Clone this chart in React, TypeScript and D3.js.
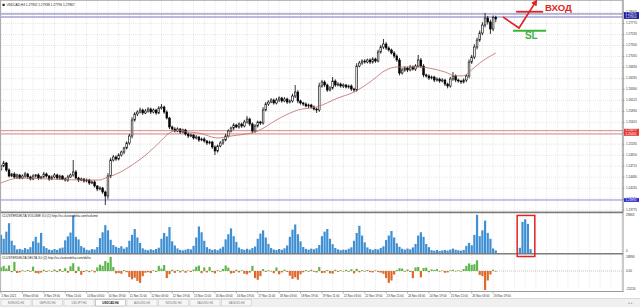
import React from "react";
import * as d3 from "d3";

const W = 640;
const H = 307;

// Candle values are stored in points (0.00001) above 1.20000
const BASE_PRICE = 1.2;
const POINT = 0.00001;
const FIRST_OPEN = 4650;

const closes = [
  4718, 4783, 4633, 4504, 4547, 4483, 4526, 4461, 4504, 4547,
  4483, 4440, 4504, 4526, 4461, 4483, 4547, 4504, 4440, 4483,
  4526, 4461, 4504, 4440, 4418, 4483, 4526, 4590, 4461, 4418,
  4440, 4397, 4418, 4354, 4376, 4290, 4226, 4247, 4161, 4076,
  4504, 4847, 4911, 4868, 4954, 5018, 5104, 5211, 5361, 5704,
  5832, 5875, 5918, 5854, 5896, 5939, 5875, 5918, 5854, 5961,
  5982, 5875, 5746, 5554, 5511, 5468, 5511, 5447, 5489, 5404,
  5361, 5382, 5318, 5339, 5275, 5297, 5254, 5211, 5232, 5125,
  5040, 5147, 5211, 5275, 5361, 5468, 5532, 5596, 5554, 5618,
  5575, 5661, 5725, 5618, 5468, 5575, 5661, 5639, 5918, 6046,
  6089, 6132, 6068, 6132, 6175, 6111, 6153, 6089, 6111, 6218,
  6303, 6111, 6068, 6046, 6004, 6025, 5982, 5939, 5918, 6432,
  6518, 6453, 6346, 6389, 6539, 6453, 6475, 6432, 6453, 6410,
  6432, 6368, 6346, 6860, 6925, 6967, 6946, 6989, 6946, 7010,
  6967, 7160, 7267, 7332, 7246, 7203, 7139, 7074, 6989, 6710,
  6775, 6817, 6775, 6839, 6796, 6860, 6989, 6860, 6668, 6646,
  6603, 6625, 6560, 6582, 6539, 6560, 6475, 6432, 6582, 6646,
  6560, 6539, 6518, 6560, 6646, 6946, 7053, 7267, 7417, 7567,
  7738, 7888, 7803, 7653, 7902, 7867,
];

const upperWicks = [
  30, 45, 20, 35, 25, 40, 30, 20, 35, 45,
  25, 30, 40, 20, 35, 25, 45, 30, 20, 35,
  40, 25, 30, 20, 35, 45, 30, 257, 40, 25,
  30, 20, 35, 25, 30, 40, 20, 35, 25, 30,
  60, 50, 45, 35, 40, 30, 25, 35, 45, 60,
  40, 35, 50, 30, 45, 40, 30, 35, 25, 40,
  64, 30, 35, 25, 30, 40, 35, 20, 30, 25,
  35, 30, 20, 40, 25, 30, 35, 20, 30, 25,
  35, 30, 40, 25, 45, 35, 30, 40, 25, 35,
  30, 45, 64, 30, 35, 40, 30, 25, 60, 45,
  35, 40, 30, 45, 35, 25, 40, 30, 35, 50,
  150, 40, 30, 25, 35, 30, 25, 35, 30, 70,
  45, 35, 30, 40, 86, 35, 40, 30, 35, 25,
  30, 35, 25, 60, 45, 35, 40, 30, 35, 40,
  30, 50, 45, 107, 40, 35, 30, 40, 35, 45,
  40, 35, 30, 45, 35, 40, 107, 45, 40, 30,
  35, 30, 25, 35, 30, 40, 25, 30, 45, 86,
  35, 30, 25, 35, 40, 55, 45, 60, 50, 55,
  60, 108, 45, 50, 40, 36,
];

const lowerWicks = [
  35, 25, 40, 30, 20, 35, 45, 30, 25, 35,
  40, 30, 25, 35, 45, 30, 20, 35, 40, 25,
  30, 35, 45, 25, 30, 40, 20, 35, 30, 45,
  25, 35, 30, 40, 25, 35, 45, 30, 40, 193,
  70, 45, 35, 40, 30, 35, 45, 30, 40, 50,
  35, 45, 30, 40, 25, 35, 45, 30, 40, 25,
  35, 40, 30, 45, 35, 30, 25, 40, 30, 35,
  45, 25, 35, 30, 40, 25, 35, 45, 30, 40,
  86, 35, 30, 40, 25, 35, 30, 45, 25, 35,
  40, 30, 35, 45, 50, 35, 30, 40, 35, 30,
  40, 25, 35, 30, 45, 35, 25, 40, 30, 35,
  45, 50, 35, 40, 30, 45, 35, 30, 64, 40,
  35, 45, 40, 30, 35, 40, 30, 35, 45, 30,
  35, 40, 45, 35, 30, 40, 35, 30, 45, 35,
  40, 30, 35, 45, 40, 35, 30, 45, 40, 50,
  35, 40, 45, 30, 35, 40, 30, 45, 50, 35,
  40, 30, 45, 35, 40, 30, 45, 50, 35, 40,
  45, 35, 40, 30, 45, 50, 40, 45, 50, 40,
  45, 50, 55, 107, 45, 71,
];

const volumes = [
  14000, 11000, 16500, 23000, 9500, 6000, 2800, 3200, 2500, 3800,
  2900, 4500, 9000, 12500, 8000, 15500, 5200, 3800, 2600, 2200,
  3100, 2400, 3600, 4200, 9800, 12800, 15800, 29000, 12500, 10500,
  5300, 4100, 2500, 2100, 3000, 2700, 4600, 11500, 16000, 21500,
  17500, 10200, 6200, 4800, 3900, 5200, 3300, 4500, 9500, 14000,
  18500, 12000, 7800, 3600, 2500, 2100, 2900, 2300, 3100, 4100,
  11000, 15500, 12800, 20000, 9000, 5800, 3500, 2400, 2000, 2600,
  3200, 2800, 5500, 12000, 20500, 16000, 9500, 4500, 3200, 2400,
  2900, 2200, 3400, 4800, 10500, 14500, 19000, 13000, 8500, 4200,
  3000, 2500, 3300, 2600, 3800, 5000, 11000, 15000, 17500, 12000,
  7000, 3800, 2700, 2300, 3100, 2500, 3600, 5800, 12500, 18000,
  22000, 14500, 9000, 4600, 3200, 2600, 3400, 2900, 3700, 6200,
  13000, 16500, 18500, 11000, 6800, 3900, 2800, 2200, 2600, 2400,
  3300, 4400, 9500, 15500, 21000, 13500, 8200, 4300, 3000, 2400,
  3200, 2700, 3900, 5200, 10000, 13500, 17000, 12000, 7500, 4800,
  3300, 2600, 3500, 2800, 4300, 7000, 13500, 16000, 12500, 7000,
  4500, 2200, 1800, 2400, 1600, 2000, 2300, 1900, 2600, 3400,
  2500, 2100, 1800, 2400, 5500, 7800, 6000, 14000, 29500, 13000,
  17500, 25000, 15500, 11000, 3500, 2000,
];

const deltas = [
  4500, 6500, 3000, 7000, -1500, 11500, -2500, -1800, 800, -600,
  1200, -900, 5500, -2500, -3200, -2000, 1500, -1200, 600, -800,
  1800, -1400, 2500, -1000, 3500, -2200, 6000, 9800, -2600, 5500,
  -4800, -1200, 900, -1500, 700, -1800, 4500, 8000, 6500, 12500,
  10500, 17800, 5000, -3000, -2600, -3400, 1200, -1500, -7500, -10500,
  -8500, -12500, -15000, -6500, -2200, -1500, -2600, 800, -1200, 6500,
  3000, 7500, -9000, -4000, 1500, -2400, 1200, -1800, 900, -2200,
  600, -1200, 1800, 5500, 6800, -2800, 4500, -1800, 5200, -1500,
  -3000, 1000, -800, 2500, 6800, 4200, -3200, -2500, 1500, -1800,
  900, -3600, -4200, -2000, 6500, -9000, -11000, -6500, 2400, -1200,
  800, -600, -2800, 4500, -4200, -1800, 1600, -1200, -6000, -10000,
  -8000, -11000, -4200, -1600, 1100, -900, 1500, -1000, -1800, 5000,
  -2500, -2200, 1200, -3000, -3400, 1600, -1200, 800, -600, 1400,
  -1000, 2200, -3000, 2800, -1600, 900, -700, 1300, -1500, -1800,
  600, -1400, -2000, -3500, -9000, -15000, -12000, -4500, 1200, 3500,
  3000, -900, 1800, -1200, -9000, 4500, 5000, -8000, 3800, 4200,
  -1500, 2000, 1200, 2400, -800, 600, -2200, -1800, 700, 1500,
  -600, 900, -500, 2500, 6500, 9500, 7800, 8500, 13500, -5000,
  -6500, -24000, -12000, -4500, 1500, -800,
];

// hand-drawn volume projection inside the red box
const highlightStart = 194;
const highlightVolumes = [4000, 24000, 26000, 22500, 3000];

// moving average: [bar, points]
const maPoints: [number, number][] = [
  [0, 4354], [7, 4461], [18, 4440], [30, 4418], [37, 4418], [39, 4461],
  [44, 4568], [49, 4740], [55, 4997], [59, 5211], [63, 5425], [66, 5489],
  [70, 5447], [74, 5425], [81, 5318], [86, 5361], [95, 5447], [105, 5768],
  [111, 5918], [118, 5982], [126, 6175], [132, 6303], [138, 6518],
  [144, 6775], [148, 6839], [156, 6839], [160, 6817], [166, 6732],
  [170, 6650], [173, 6650], [175, 6732], [179, 6925], [185, 7139],
];

const timeLabels = [
  "5 Nov 2021", "8 Nov 03:00", "8 Nov 19:00", "9 Nov 11:00", "10 Nov 03:00",
  "10 Nov 19:00", "11 Nov 11:00", "12 Nov 03:00", "12 Nov 19:00", "15 Nov 11:00",
  "16 Nov 03:00", "16 Nov 19:00", "17 Nov 11:00", "18 Nov 03:00", "18 Nov 19:00",
  "19 Nov 11:00", "22 Nov 03:00", "22 Nov 19:00", "23 Nov 11:00", "24 Nov 03:00",
  "24 Nov 19:00", "25 Nov 11:00", "26 Nov 03:00", "26 Nov 19:00",
];
const barsPerLabel = 8;

const priceTicks = [
  1.28005, 1.2777, 1.27535, 1.273, 1.27065, 1.2683, 1.26595, 1.2636, 1.26125,
  1.2589, 1.25655, 1.2542, 1.25185, 1.2495, 1.24715, 1.2448, 1.24245, 1.2401, 1.23775,
];

const blueTopLevels = [1.27975, 1.2791];
const redLevels = [1.25475, 1.25405];
const blueBottomLevels = [1.2399];

const volumeAxisLabels = [29863, 0];
const deltaAxisLabels = ["18898", "0.00", "-25226"];
const deltaAxisValues = [18898, 0, -25226];

const tabs = ["EURUSD,H4", "GBPUSD,H4", "USDJPY,H4", "USDCAD,H4", "AUDUSD,H4", "NZDUSD,H4", "XAUUSD,H4", "XAGUSD,H4"];
const activeTab = "USDCAD,H4";

const chartTitle = "USDCAD,H4  1.27902 1.27938 1.27796 1.27867";
const volumeTitle = "CLUSTERDELTA VOLUME 3.0 (1) http://ru.clusterdelta.com/volume";
const deltaTitle = "CLUSTERDELTA DELTA 3.0 (2) http://ru.clusterdelta.com/delta";

// annotation in data space: [bar, price]
const arrowPath: [number, number][] = [[187.7, 1.2791], [193.7, 1.27674], [200, 1.28242]];
const entryLine: [number, number, number] = [192.6, 202.7, 1.28023];
const slLine: [number, number, number] = [191.4, 203.8, 1.27616];
const entryText = { bar: 203.4, price: 1.28045, text: "ВХОД" };
const slText = { bar: 195.9, price: 1.27432, text: "SL" };
const boxBars = [193, 199.6];

const FONT = "'Liberation Sans', Arial, sans-serif";

export default function App() {
  const plotL = 1;
  const plotR = 623;
  const mainTop = 1;
  const mainBot = 212;
  const volTop = 213;
  const volBot = 253;
  const dTop = 255;
  const dBot = 291;

  const x = d3.scaleLinear().domain([0, 232.2]).range([plotL, 622]);
  const y = d3.scaleLinear().domain([1.23733, 1.28253]).range([mainBot, mainTop]);
  const yVol = d3.scaleLinear().domain([0, 30500]).range([volBot, volTop + 0.5]);
  const yDelta = d3.scaleLinear().domain([-25226, 18898]).range([dBot, dTop + 1]);
  const toPrice = (v: number) => BASE_PRICE + v * POINT;

  const candles = closes.map((c, i) => {
    const o = i === 0 ? FIRST_OPEN : closes[i - 1];
    return {
      i,
      o: toPrice(o),
      c: toPrice(c),
      h: toPrice(Math.max(o, c) + upperWicks[i]),
      l: toPrice(Math.min(o, c) - lowerWicks[i]),
    };
  });

  const maLine = d3
    .line<[number, number]>()
    .x((d) => x(d[0]))
    .y((d) => y(toPrice(d[1])))
    .curve(d3.curveMonotoneX);

  const gridBars = d3.range(0, 233, 4);
  const bw = 1.7;
  const vbw = 2.2;

  const arrowPts = arrowPath.map(([b, p]) => `${x(b)},${y(p)}`).join(" ");

  const levelBox = (levels: number[], fill: string, key: string) => {
    const y0 = y(levels[0]) - 1.9;
    const y1 = y(levels[levels.length - 1]) + 1.9;
    return (
      <g key={key}>
        <rect x={plotR + 1} y={y0} width={15} height={y1 - y0} fill={fill} />
        {levels.map((lv, k) => (
          <text key={k} x={plotR + 2.5} y={y(lv)} fontSize={3} fill="#fff" dominantBaseline="middle">
            {lv.toFixed(5)}
          </text>
        ))}
      </g>
    );
  };

  const paneVGrid = (top: number, bot: number, key: string) => (
    <g key={key} stroke="#d6d6d6" strokeWidth={0.6} strokeDasharray="1,1">
      {gridBars.map((b) => (
        <line key={b} x1={x(b)} x2={x(b)} y1={top} y2={bot} />
      ))}
    </g>
  );

  return (
    <div style={{ position: "absolute", left: 0, top: 0, width: W, height: H }}>
      <svg width={W} height={H} style={{ display: "block" }} fontFamily={FONT}>
        <defs>
          <clipPath id="mainClip">
            <rect x={plotL} y={mainTop} width={plotR - plotL} height={mainBot - mainTop} />
          </clipPath>
          <marker id="arrowHead" viewBox="0 0 10 10" refX="6" refY="5" markerWidth="4" markerHeight="4" orient="auto">
            <path d="M0,0 L10,5 L0,10 z" fill="#e02424" />
          </marker>
        </defs>
        <rect width={W} height={H} fill="#fff" />

        {/* main pane grid */}
        {paneVGrid(mainTop, mainBot, "g1")}
        <g stroke="#d6d6d6" strokeWidth={0.6} strokeDasharray="1,1">
          {priceTicks.map((p) => (
            <line key={p} x1={plotL} x2={plotR} y1={y(p)} y2={y(p)} />
          ))}
        </g>
        {paneVGrid(volTop, volBot, "g2")}
        {paneVGrid(dTop, dBot, "g3")}

        {/* horizontal levels */}
        <g strokeWidth={0.9}>
          {blueTopLevels.map((lv) => (
            <line key={lv} x1={plotL} x2={plotR} y1={y(lv)} y2={y(lv)} stroke="#6666b4" />
          ))}
          {redLevels.map((lv) => (
            <line key={lv} x1={plotL} x2={plotR} y1={y(lv)} y2={y(lv)} stroke="#d47a7a" />
          ))}
          {blueBottomLevels.map((lv) => (
            <line key={lv} x1={plotL} x2={plotR} y1={y(lv)} y2={y(lv)} stroke="#8484d2" />
          ))}
        </g>

        {/* candles */}
        <g clipPath="url(#mainClip)">
          {candles.map((d) => {
            const cx = x(d.i);
            const top = y(Math.max(d.o, d.c));
            const bh = Math.max(0.7, Math.abs(y(d.o) - y(d.c)));
            const bull = d.c >= d.o;
            return (
              <g key={d.i}>
                <line x1={cx} x2={cx} y1={y(d.h)} y2={y(d.l)} stroke="#000" strokeWidth={0.8} />
                <rect
                  x={cx - bw / 2}
                  y={top}
                  width={bw}
                  height={bh}
                  fill={bull ? "#fff" : "#000"}
                  stroke="#000"
                  strokeWidth={0.6}
                />
              </g>
            );
          })}
          <path d={maLine(maPoints) || ""} fill="none" stroke="#b86e6a" strokeWidth={0.8} />
        </g>

        {/* volume */}
        <g fill="#3f8fd2">
          {volumes.map((v, i) => (
            <rect key={i} x={x(i) - vbw / 2} y={yVol(v)} width={vbw} height={volBot - yVol(v)} />
          ))}
          {highlightVolumes.map((v, k) => (
            <rect
              key={"h" + k}
              x={x(highlightStart + k) - vbw / 2}
              y={yVol(v)}
              width={vbw}
              height={volBot - yVol(v)}
            />
          ))}
        </g>

        {/* delta */}
        <line
          x1={plotL}
          x2={plotR}
          y1={yDelta(0)}
          y2={yDelta(0)}
          stroke="#9a9a9a"
          strokeWidth={0.6}
          strokeDasharray="1,1"
        />
        <g>
          {deltas.map((v, i) => (
            <rect
              key={i}
              x={x(i) - vbw / 2}
              y={Math.min(yDelta(v), yDelta(0))}
              width={vbw}
              height={Math.max(0.5, Math.abs(yDelta(v) - yDelta(0)))}
              fill={v >= 0 ? "#5cb84a" : "#de6a2a"}
            />
          ))}
        </g>

        {/* pane frames */}
        <g fill="none">
          <rect x={0.5} y={0.5} width={plotR - 0.5} height={mainBot - 0.5} stroke="#a8a8a8" strokeWidth={0.8} />
          <line x1={0} x2={plotR} y1={mainBot + 0.5} y2={mainBot + 0.5} stroke="#7c7c7c" strokeWidth={1.6} />
          <line x1={0} x2={plotR} y1={volBot + 0.8} y2={volBot + 0.8} stroke="#7c7c7c" strokeWidth={1.6} />
          <line x1={0} x2={plotR} y1={dBot + 0.5} y2={dBot + 0.5} stroke="#9a9a9a" strokeWidth={1} />
          <line x1={0.5} x2={0.5} y1={0} y2={dBot} stroke="#a8a8a8" strokeWidth={0.8} />
          <line x1={plotR} x2={plotR} y1={0} y2={dBot + 1} stroke="#8a8a8a" strokeWidth={0.9} />
        </g>

        {/* price axis */}
        <g fontSize={3} fill="#333">
          {priceTicks.map((p) => (
            <g key={p}>
              <line x1={plotR} x2={plotR + 1.5} y1={y(p)} y2={y(p)} stroke="#666" strokeWidth={0.5} />
              <text x={plotR + 3} y={y(p)} dominantBaseline="middle">
                {p.toFixed(5)}
              </text>
            </g>
          ))}
        </g>
        {levelBox(blueTopLevels, "#1f1f9c", "b1")}
        {levelBox(redLevels, "#e33b3b", "b2")}
        {levelBox(blueBottomLevels, "#2b2bd2", "b3")}

        {/* indicator axes */}
        <g fontSize={3} fill="#333">
          {volumeAxisLabels.map((v) => (
            <text key={v} x={plotR + 3} y={v === 0 ? volBot - 1.5 : volTop + 2.2} dominantBaseline="middle">
              {String(v)}
            </text>
          ))}
          {deltaAxisValues.map((v, k) => (
            <text
              key={v}
              x={plotR + 3}
              y={k === 0 ? dTop + 2 : k === 2 ? dBot - 1.5 : yDelta(v)}
              dominantBaseline="middle"
            >
              {deltaAxisLabels[k]}
            </text>
          ))}
        </g>

        {/* time axis */}
        <g fontSize={2.9} fill="#333">
          {timeLabels.map((t, k) => {
            const tx = x(k * barsPerLabel);
            return (
              <g key={t}>
                <line x1={tx} x2={tx} y1={dBot + 1} y2={dBot + 2.5} stroke="#666" strokeWidth={0.5} />
                <text x={tx + 0.5} y={297}>
                  {t}
                </text>
              </g>
            );
          })}
        </g>

        {/* titles */}
        <rect x={2.5} y={3.8} width={2.2} height={2.2} fill="#222" />
        <text x={6.5} y={6.3} fontSize={3.2} fill="#222">
          {chartTitle}
        </text>
        <text x={2} y={216.5} fontSize={3.2} fill="#222">
          {volumeTitle}
        </text>
        <text x={2} y={258.5} fontSize={3.2} fill="#222">
          {deltaTitle}
        </text>

        {/* annotations */}
        <line
          x1={x(entryLine[0])}
          x2={x(entryLine[1])}
          y1={y(entryLine[2])}
          y2={y(entryLine[2])}
          stroke="#e02424"
          strokeWidth={1.8}
        />
        <line
          x1={x(slLine[0])}
          x2={x(slLine[1])}
          y1={y(slLine[2])}
          y2={y(slLine[2])}
          stroke="#3db43d"
          strokeWidth={1.8}
        />
        <polyline
          points={arrowPts}
          fill="none"
          stroke="#e02424"
          strokeWidth={1.6}
          strokeLinejoin="miter"
          markerEnd="url(#arrowHead)"
        />
        <text x={x(entryText.bar)} y={y(entryText.price)} fontSize={9.6} fontWeight="bold" fill="#e02424">
          {entryText.text}
        </text>
        <text x={x(slText.bar)} y={y(slText.price)} fontSize={10} fontWeight="bold" fill="#3db43d">
          {slText.text}
        </text>
        <rect
          x={x(boxBars[0])}
          y={yVol(29000)}
          width={x(boxBars[1]) - x(boxBars[0])}
          height={volBot + 3.5 - yVol(29000)}
          fill="none"
          stroke="#e02424"
          strokeWidth={1.5}
        />

        {/* tabs */}
        <rect x={0} y={298.5} width={W} height={H - 298.5} fill="#f0f0f0" />
        <line x1={0} x2={W} y1={298.5} y2={298.5} stroke="#c8c8c8" strokeWidth={0.6} />
        {tabs.map((t, k) => {
          const tx = 1 + k * 31.5;
          const active = t === activeTab;
          return (
            <g key={t}>
              <rect
                x={tx}
                y={299.5}
                width={30}
                height={6.5}
                fill={active ? "#ffffff" : "#f6f6f6"}
                stroke={active ? "#9a9a9a" : "#c4c4c4"}
                strokeWidth={0.5}
              />
              <text
                x={tx + 15}
                y={303.9}
                fontSize={2.8}
                textAnchor="middle"
                fill={active ? "#111" : "#777"}
                fontWeight={active ? "bold" : "normal"}
              >
                {t}
              </text>
            </g>
          );
        })}
        <text x={628} y={303.5} fontSize={3} fill="#888">
          ◂ ▸
        </text>
      </svg>
    </div>
  );
}
